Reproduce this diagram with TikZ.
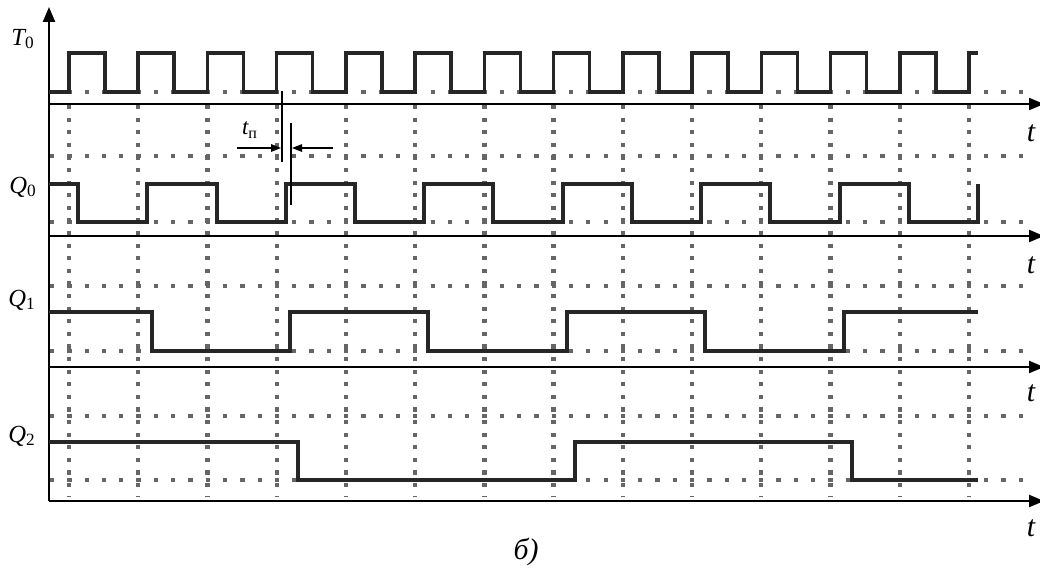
\documentclass[tikz,border=0pt]{standalone}
\usepackage{fontspec}
\setmainfont{Liberation Serif}
\usetikzlibrary{arrows.meta}
\begin{document}
\begin{tikzpicture}[x=0.02cm,y=-0.02cm,
  wave/.style={draw=black!85,line width=0.07cm,line join=miter},
  axis/.style={draw,line width=0.045cm,-{Triangle[length=0.3cm,width=0.24cm]}},
  thinline/.style={draw,line width=0.028cm},
  hdots/.style={draw=black!60,line width=0.085cm,dash pattern=on 0.085cm off 0.261cm},
  vdots/.style={draw=black!60,line width=0.085cm,dash pattern=on 0.085cm off 0.167cm},
  lbl/.style={inner sep=0pt,font=\fontsize{14}{16}\selectfont\itshape},
  tplbl/.style={inner sep=0pt,font=\fontsize{13}{15}\selectfont\itshape},
  tlbl/.style={inner sep=0pt,font=\fontsize{17}{19}\selectfont\itshape}]
\useasboundingbox (0,0) rectangle (1040,568);
% grid
\foreach \y in {92,156,222,286,351,416,480}
  \path[hdots] (50,\y) -- (1024,\y);
\foreach \k in {0,...,13}
  \path[vdots] ({69+69.23*\k},105) -- ({69+69.23*\k},496);
% axes
\coordinate (o) at (49,501);
\coordinate (ytop) at (49,7);
\coordinate (a0) at (49,104);
\coordinate (e0) at (1044,104);
\coordinate (a1) at (49,236);
\coordinate (e1) at (1044,236);
\coordinate (a2) at (49,367);
\coordinate (e2) at (1044,367);
\coordinate (e3) at (1044,501);
\path[axis] (o) -- (ytop);
\path[axis] (a0) -- (e0);
\path[axis] (a1) -- (e1);
\path[axis] (a2) -- (e2);
\path[axis] (o) -- (e3);
% signals
\path[wave] (49,92) foreach \k in {0,...,12} { -- ({69+69.23*\k},92) -- ++(0,-39) -- ++(36,0) -- ++(0,39) }
  -- (969,92) -- (969,53) -- (978,53);
\path[wave] (49,184) -- (78,184) -- (78,222) -- (147,222) -- (147,184) -- (217,184) -- (217,222)
  -- (286,222) -- (286,184) -- (355,184) -- (355,222) -- (424,222) -- (424,184) -- (493,184)
  -- (493,222) -- (563,222) -- (563,184) -- (632,184) -- (632,222) -- (701,222) -- (701,184)
  -- (770,184) -- (770,222) -- (840,222) -- (840,184) -- (909,184) -- (909,222) -- (978,222)
  -- (978,184);
\path[wave] (49,312) -- (152,312) -- (152,351) -- (290,351) -- (290,312) -- (428,312) -- (428,351)
  -- (567,351) -- (567,312) -- (705,312) -- (705,351) -- (844,351) -- (844,312) -- (978,312);
\path[wave] (49,442) -- (298,442) -- (298,480) -- (575,480) -- (575,442) -- (852,442) -- (852,480)
  -- (978,480);
% delay mark
\coordinate (tpa) at (282,91);
\coordinate (tpb) at (282,162);
\coordinate (tpc) at (291,123);
\coordinate (tpd) at (291,205);
\coordinate (la) at (237,148);
\coordinate (lb) at (281,148);
\coordinate (ra) at (333,148);
\coordinate (rb) at (292,148);
\path[thinline] (tpa) -- (tpb);
\path[thinline] (tpc) -- (tpd);
\path[thinline,-{Triangle[length=0.2cm,width=0.15cm]}] (la) -- (lb);
\path[thinline,-{Triangle[length=0.2cm,width=0.15cm]}] (ra) -- (rb);
\node[tplbl] (tp) at (250,130) {t\textsubscript{\upshape п}};
% labels
\node[lbl] (lblT0) at (23,39) {T\textsubscript{\upshape 0}};
\node[lbl] (lblQ0) at (23,187) {Q\textsubscript{\upshape 0}};
\node[lbl] (lblQ1) at (22,300) {Q\textsubscript{\upshape 1}};
\node[lbl] (lblQ2) at (22,436) {Q\textsubscript{\upshape 2}};
\node[tlbl] (t0) at (1031,133) {t};
\node[tlbl] (t1) at (1031,265) {t};
\node[tlbl] (t2) at (1031,393) {t};
\node[tlbl] (t3) at (1031,528) {t};
\node[tlbl] (cap) at (526,552) {б)};
\end{tikzpicture}
\end{document}
